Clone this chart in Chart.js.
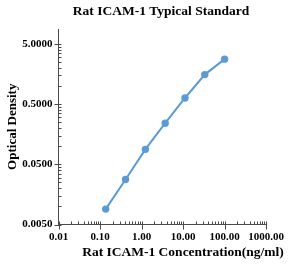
<!DOCTYPE html>
<html>
<head>
<meta charset="utf-8">
<script src="https://cdn.jsdelivr.net/npm/chart.js@4"></script>
<style>
html,body{margin:0;padding:0;background:#fff;}
#wrap{width:290px;height:266px;position:relative;}
</style>
</head>
<body>
<div id="wrap"><canvas id="c" width="290" height="266"></canvas></div>
<script>
const chartTitle = 'Rat ICAM-1 Typical Standard';
const xAxisTitle = 'Rat ICAM-1 Concentration(ng/ml)';
const yAxisTitle = 'Optical Density';
const concentrations = [0.137, 0.412, 1.235, 3.704, 11.11, 33.33, 100];
const opticalDensity = [0.009, 0.028, 0.0885, 0.24, 0.63, 1.54, 2.78];
const xTickValues = [0.01, 0.1, 1, 10, 100, 1000];
const xTickLabels = ['0.01', '0.10', '1.00', '10.00', '100.00', '1000.00'];
const yTickValues = [0.005, 0.05, 0.5, 5];
const yTickLabels = ['0.0050', '0.0500', '0.5000', '5.0000'];

const FONT = "'Liberation Serif', 'Times New Roman', serif";
const AXIS_COLOR = '#4a4a4a';

const axisPlugin = {
  id: 'axisTicks',
  afterDraw(chart) {
    const ctx = chart.ctx;
    const xs = chart.scales.x, ys = chart.scales.y;
    const ca = chart.chartArea;
    ctx.save();
    ctx.strokeStyle = AXIS_COLOR;
    ctx.lineWidth = 1;
    ctx.beginPath();
    // x axis ticks
    for (let i = 0; i < xTickValues.length; i++) {
      const v = xTickValues[i];
      const px = Math.round(xs.getPixelForValue(v)) + 0.5;
      ctx.moveTo(px, ca.bottom - 3); ctx.lineTo(px, ca.bottom + 5);
      if (i < xTickValues.length - 1) {
        for (let k = 2; k <= 9; k++) {
          const mx = Math.round(xs.getPixelForValue(v * k)) + 0.5;
          ctx.moveTo(mx, ca.bottom); ctx.lineTo(mx, ca.bottom - 3);
        }
      }
    }
    // y axis ticks
    for (let i = 0; i < yTickValues.length; i++) {
      const v = yTickValues[i];
      const py = Math.round(ys.getPixelForValue(v)) + 0.5;
      ctx.moveTo(ca.left - 4, py); ctx.lineTo(ca.left + 3, py);
      for (let k = 2; k <= 9; k++) {
        const val = v * k;
        if (val > ys.max) break;
        const my = Math.round(ys.getPixelForValue(val)) + 0.5;
        ctx.moveTo(ca.left, my); ctx.lineTo(ca.left + 3, my);
      }
    }
    ctx.stroke();

    // titles
    ctx.fillStyle = '#000';
    ctx.textAlign = 'center';
    ctx.textBaseline = 'middle';
    ctx.font = "bold 13.5px " + FONT;
    ctx.fillText(chartTitle, 161, 12);
    ctx.fillText(xAxisTitle, 183, 253);
    ctx.font = "bold 13px " + FONT;
    ctx.translate(12.5, (ca.top + ca.bottom) / 2);
    ctx.rotate(-Math.PI / 2);
    ctx.fillText(yAxisTitle, 0, 0);
    ctx.restore();
  }
};

new Chart(document.getElementById('c'), {
  type: 'line',
  data: {
    datasets: [{
      data: concentrations.map((x, i) => ({ x: x, y: opticalDensity[i] })),
      borderColor: '#5b9bd5',
      backgroundColor: '#5b9bd5',
      borderWidth: 2,
      pointRadius: 3.7,
      pointHoverRadius: 3.7,
      pointBorderWidth: 0,
      tension: 0,
      fill: false
    }]
  },
  options: {
    responsive: false,
    animation: false,
    devicePixelRatio: 1,
    layout: { padding: { top: 29, right: 20, left: 0, bottom: 0 } },
    plugins: { legend: { display: false }, title: { display: false }, tooltip: { enabled: false } },
    scales: {
      x: {
        type: 'logarithmic',
        min: 0.01, max: 1000,
        afterBuildTicks: s => { s.ticks = xTickValues.map(v => ({ value: v })); },
        afterFit: s => { s.height = 41.5; },
        grid: { display: false, drawTicks: false, tickLength: 0 },
        border: { display: true, color: AXIS_COLOR, width: 1 },
        ticks: {
          autoSkip: false, maxRotation: 0, minRotation: 0, padding: 6,
          color: '#000', font: { family: FONT, size: 11, weight: 'bold' },
          callback: (v, i) => xTickLabels[i]
        }
      },
      y: {
        type: 'logarithmic',
        min: 0.005, max: 8.8,
        afterBuildTicks: s => { s.ticks = yTickValues.map(v => ({ value: v })); },
        afterFit: s => { s.width = 58.5; },
        grid: { display: false, drawTicks: false, tickLength: 0 },
        border: { display: true, color: AXIS_COLOR, width: 1 },
        ticks: {
          autoSkip: false, padding: 6,
          color: '#000', font: { family: FONT, size: 11, weight: 'bold' },
          callback: (v, i) => yTickLabels[i]
        }
      }
    }
  },
  plugins: [axisPlugin]
});
</script>
</body>
</html>
